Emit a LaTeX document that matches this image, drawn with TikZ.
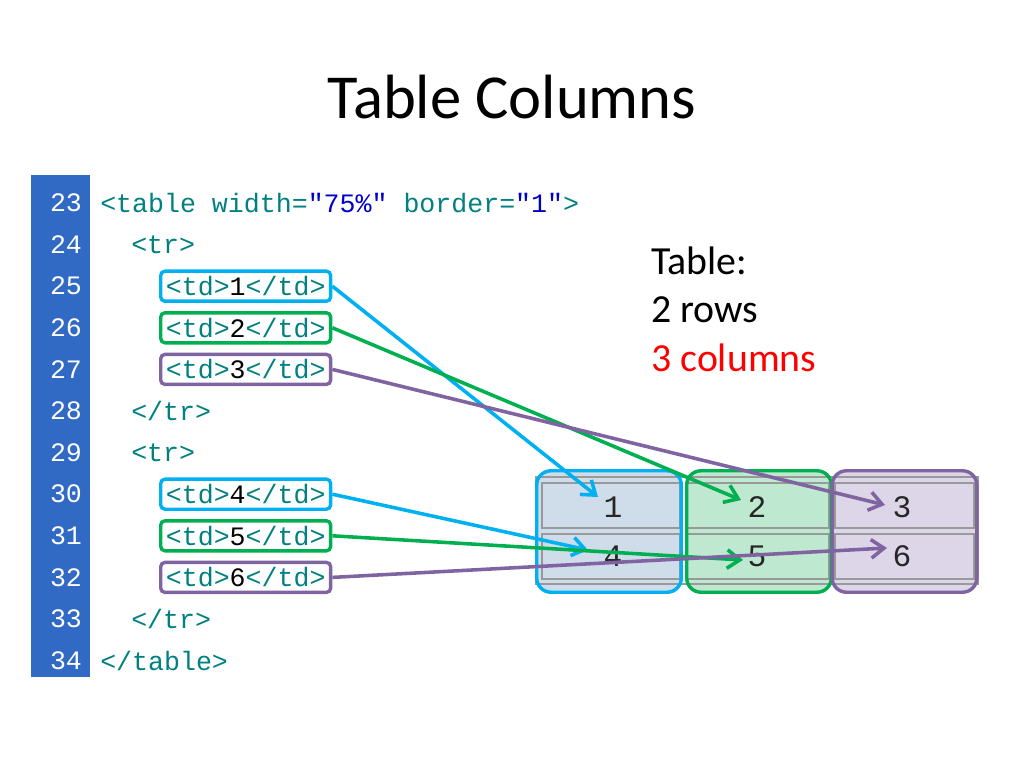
\documentclass[tikz,border=0pt]{standalone}
\usepackage{fontspec}
\setmainfont{Carlito}
\newfontfamily\codefont{Liberation Mono}
\usepackage{tikz}
\usetikzlibrary{positioning,arrows.meta,calc}
\definecolor{stripblue}{RGB}{49,106,197}
\definecolor{codeteal}{RGB}{0,128,128}
\definecolor{codeblue}{RGB}{0,0,205}
\definecolor{tdblue}{RGB}{0,176,240}
\definecolor{tdgreen}{RGB}{0,176,80}
\definecolor{tdpurple}{RGB}{128,100,162}
\definecolor{cellblue}{RGB}{207,221,235}
\definecolor{cellgreen}{RGB}{190,232,207}
\definecolor{cellpurple}{RGB}{221,213,232}
\newcommand{\codesize}{\codefont\fontsize{18.7}{20}\selectfont}

\tikzset{
  codeline/.style={anchor=west, inner sep=0pt, text=codeteal, font=\codesize},
  lineno/.style={inner sep=0pt, text=white, font=\codesize},
  tdbox/.style={codeline, draw, line width=2.4pt, rounded corners=3pt, inner xsep=2pt,
    minimum width=119.5pt, minimum height=21.1pt},
  colbox/.style={rounded corners=10pt, minimum width=101.25pt, minimum height=85pt},
  cellnum/.style={inner sep=0pt, text=black!85, font=\codefont\fontsize{22}{24}\selectfont},
  link/.style={line width=2.5pt, -{Straight Barb[length=9pt,width=13pt]}}
}

\begin{document}
\begin{tikzpicture}[x=0.703125pt,y=-0.703125pt]
\useasboundingbox (0,0) rectangle (1024,768);

% Title
\node[font=\fontsize{44}{50}\selectfont] (title) at (512,97) {Table Columns};

% Line number strip
\fill[stripblue] (31,175) rectangle (90,677);
\foreach \n [evaluate=\n as \yy using 203+41.6*(\n-23)] in {23,...,34}
  \node[lineno] (ln\n) at (66,\yy) {\n};

% Source lines
\node[codeline] (l23) at (100,203) {<table width=\textcolor{codeblue}{"75\%"} border=\textcolor{codeblue}{"1"}>};
\node[codeline] (l24) at (131,244.6) {<tr>};
\node[tdbox, draw=tdblue] (td1) at (159,286.2) {<td>\textcolor{black}{1}</td>};
\node[tdbox, draw=tdgreen] (td2) at (159,327.8) {<td>\textcolor{black}{2}</td>};
\node[tdbox, draw=tdpurple] (td3) at (159,369.4) {<td>\textcolor{black}{3}</td>};
\node[codeline] (l28) at (131,411) {</tr>};
\node[codeline] (l29) at (131,452.6) {<tr>};
\node[tdbox, draw=tdblue] (td4) at (159,494.2) {<td>\textcolor{black}{4}</td>};
\node[tdbox, draw=tdgreen] (td5) at (159,535.8) {<td>\textcolor{black}{5}</td>};
\node[tdbox, draw=tdpurple] (td6) at (159,577.4) {<td>\textcolor{black}{6}</td>};
\node[codeline] (l33) at (131,619) {</tr>};
\node[codeline] (l34) at (100,660.6) {</table>};

% Table: 2 rows 3 columns
\node[anchor=base west, align=left, inner sep=0pt, font=\fontsize{28}{34}\selectfont] (info) at (651,371)
{Table:\\2 rows\\\textcolor{red}{3 columns}};

% Rendered table
\node[colbox, fill=cellblue] (col1) at (609,531.5) {};
\node[colbox, fill=cellgreen] (col2) at (759,531.5) {};
\node[colbox, fill=cellpurple] (col3) at (904.5,531.5) {};
\draw[gray!80, line width=1pt] (536,477) rectangle (978,584);
\foreach \xa/\xb in {542/680, 686/829, 835/974} {
  \draw[gray!80, line width=1pt] (\xa,483) rectangle (\xb,528);
  \draw[gray!80, line width=1pt] (\xa,534) rectangle (\xb,579);
}
\node[cellnum] (n1) at (613,507) {1};
\node[cellnum] (n2) at (757,507) {2};
\node[cellnum] (n3) at (902,507) {3};
\node[cellnum] (n4) at (613,556) {4};
\node[cellnum] (n5) at (757,556) {5};
\node[cellnum] (n6) at (902,556) {6};
\draw[tdblue, line width=2.4pt, rounded corners=10pt] (col1.north west) rectangle (col1.south east);
\draw[tdgreen, line width=2.4pt, rounded corners=10pt] (col2.north west) rectangle (col2.south east);
\draw[tdpurple, line width=2.4pt, rounded corners=10pt] (col3.north west) rectangle (col3.south east);

% Arrows from source cells to rendered cells
\draw[link, tdblue] (td1.east) -- ([shift={(-15,-10)}]n1.center);
\draw[link, tdgreen] (td2.east) -- ([shift={(-16,-7)}]n2.center);
\draw[link, tdpurple] (td3.east) -- ([shift={(-17,-2)}]n3.center);
\draw[link, tdblue] (td4.east) -- ([shift={(-25,-6)}]n4.center);
\draw[link, tdgreen] (td5.east) -- ([shift={(-14,4)}]n5.center);
\draw[link, tdpurple] (td6.east) -- ([shift={(-15,-8)}]n6.center);
\end{tikzpicture}
\end{document}
